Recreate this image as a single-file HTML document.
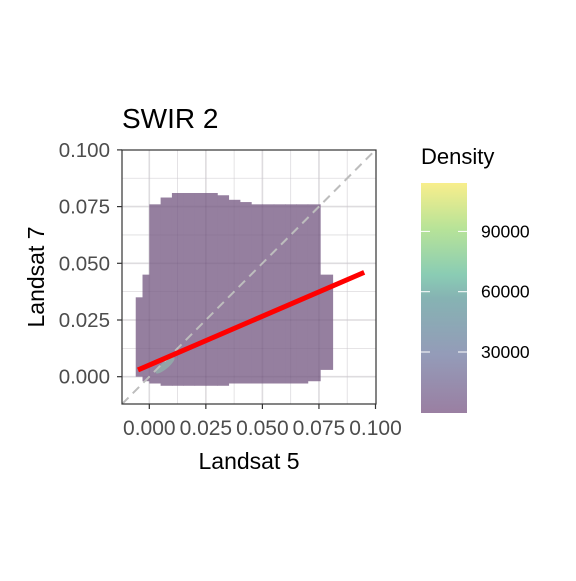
<!DOCTYPE html>
<html><head><meta charset="utf-8"><style>
body{margin:0;background:#fff;}
svg text{font-family:"Liberation Sans",Arial,sans-serif;}
</style></head><body>
<svg width="576" height="576" viewBox="0 0 576 576">
<defs>
<linearGradient id="vir" x1="0" y1="1" x2="0" y2="0">
<stop offset="0" stop-color="#9a7fa2"/>
<stop offset="0.25" stop-color="#949bb8"/>
<stop offset="0.5" stop-color="#86b3b3"/>
<stop offset="0.6" stop-color="#8accb4"/>
<stop offset="0.8" stop-color="#b7e398"/>
<stop offset="1" stop-color="#f8ee8c"/>
</linearGradient>
<clipPath id="pc"><rect x="122" y="150" width="254" height="254"/></clipPath>
</defs>
<text x="122" y="128" font-size="28" fill="#000">SWIR 2</text>
<rect x="122" y="150" width="254" height="254" fill="#fff" stroke="none"/>
<g id="grid"></g>
<g id="marks" clip-path="url(#pc)"></g>
<g id="grid2"></g>
<g id="lines" clip-path="url(#pc)"></g>
<rect x="122" y="150" width="254" height="254" fill="none" stroke="#333" stroke-width="1.2"/>
<g id="axes"></g>
<text x="249" y="469" font-size="23" text-anchor="middle">Landsat 5</text>
<text transform="translate(44,277) rotate(-90)" font-size="23" text-anchor="middle">Landsat 7</text>
<text x="421" y="164" font-size="22">Density</text>
<rect x="421" y="183" width="46" height="230" fill="url(#vir)"/>
<g id="legend"></g>
</svg>
<script>
const xTicks=[0,0.025,0.05,0.075,0.1];
const yTicks=[0,0.025,0.05,0.075,0.1];
const xTickLabels=["0.000","0.025","0.050","0.075","0.100"];
const yTickLabels=["0.000","0.025","0.050","0.075","0.100"];
// density outline: column start x, ymin, ymax (last column ends at colXEnd)
const colX=[-0.006,-0.003,0,0.005,0.01,0.015,0.02,0.025,0.03,0.035,0.04,0.045,0.05,0.055,0.06,0.065,0.07,0.0755];
const colXEnd=0.081;
const colYmin=[0.000,-0.002,-0.003,-0.004,-0.004,-0.004,-0.004,-0.004,-0.004,-0.003,-0.003,-0.003,-0.003,-0.003,-0.003,-0.003,-0.002,0.003];
const colYmax=[0.035,0.045,0.076,0.079,0.081,0.081,0.081,0.081,0.080,0.078,0.077,0.076,0.076,0.076,0.076,0.076,0.076,0.045];
const fitX=[-0.005,0.095];
const fitY=[0.003,0.046];
const legendTicks=[30000,60000,90000];
const legendLabels=["30000","60000","90000"];
const NS="http://www.w3.org/2000/svg";
const X=v=>149.3+v*2262;
const Y=v=>376.7-v*2268;
const L=v=>412.3-v*(60.3/30000);
function mk(t,a,p){const e=document.createElementNS(NS,t);for(const k in a)e.setAttribute(k,a[k]);p.appendChild(e);return e;}
const grid=document.getElementById('grid'),grid2=document.getElementById('grid2'),marks=document.getElementById('marks'),lines=document.getElementById('lines'),axes=document.getElementById('axes'),leg=document.getElementById('legend');
for(let i=0;i<9;i++){const v=-0.0125+i*0.0125;
 if(v<-0.012)continue;
 const major=Math.abs(v/0.025-Math.round(v/0.025))<1e-6;
 [[grid,'#ebebeb'],[grid2,'rgba(60,30,70,0.07)']].forEach(([g,c])=>{
 const g1=mk('line',{x1:X(v),x2:X(v),y1:150,y2:404,stroke:c,'stroke-width':major?1.6:0.8},g);
 
 const g2=mk('line',{x1:122,x2:376,y1:Y(v),y2:Y(v),stroke:c,'stroke-width':major?1.6:0.8},g);
 
 });
}
for(let i=0;i<colX.length;i++){
 const end=i+1<colX.length?colX[i+1]:colXEnd;
 const r=mk('rect',{x:X(colX[i]),y:Y(colYmax[i]),width:X(end)-X(colX[i])+0.6,height:Y(colYmin[i])-Y(colYmax[i]),fill:'#957f9f'},marks);
 
}
const hot=mk('ellipse',{cx:X(0.007),cy:Y(0.005),rx:12,ry:3.5,fill:'#8fc4b0','fill-opacity':0.55,transform:`rotate(-40 ${X(0.007)} ${Y(0.005)})`},marks);

const d=mk('line',{x1:X(-0.012),y1:Y(-0.012),x2:X(0.1),y2:Y(0.1),stroke:'#bdbdbd','stroke-width':2,'stroke-dasharray':'9,6'},lines);

const f=mk('line',{x1:X(fitX[0]),y1:Y(fitY[0]),x2:X(fitX[1]),y2:Y(fitY[1]),stroke:'#ff0000','stroke-width':5},lines);

xTicks.forEach((v,i)=>{
 const t=mk('line',{x1:X(v),x2:X(v),y1:404,y2:409,stroke:'#333','stroke-width':1.2},axes);
 
 const l=mk('text',{x:X(v),y:435,'font-size':21,'text-anchor':'middle',fill:'#4d4d4d'},axes);l.textContent=xTickLabels[i];
 
});
yTicks.forEach((v,i)=>{
 const t=mk('line',{x1:117,x2:122,y1:Y(v),y2:Y(v),stroke:'#333','stroke-width':1.2},axes);
 
 const l=mk('text',{x:110,y:Y(v)+7,'font-size':20.5,'text-anchor':'end',fill:'#4d4d4d'},axes);l.textContent=yTickLabels[i];
 
});
legendTicks.forEach((v,i)=>{
 const a=mk('line',{x1:421,x2:430,y1:L(v),y2:L(v),stroke:'#fff','stroke-width':1},leg);
 
 const b=mk('line',{x1:458,x2:467,y1:L(v),y2:L(v),stroke:'#fff','stroke-width':1},leg);
 
 const l=mk('text',{x:481,y:L(v)+6,'font-size':17.5,fill:'#000'},leg);l.textContent=legendLabels[i];
 
});
</script>
</body></html>
